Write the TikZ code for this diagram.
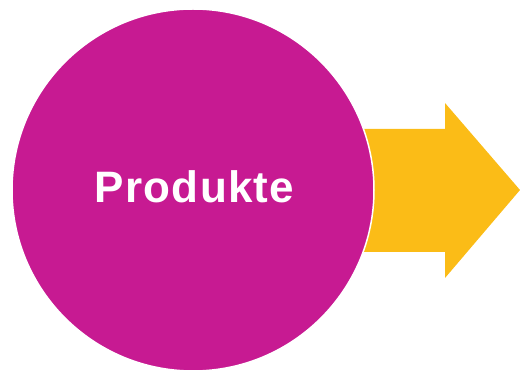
\documentclass[tikz,border=0pt]{standalone}
\usepackage{fontspec}
\setmainfont{Liberation Sans}
\definecolor{magentaP}{HTML}{C71A92}
\definecolor{yellowA}{HTML}{FBBC17}
\begin{document}
\begin{tikzpicture}[x=1pt,y=-1pt,
  arrowshape/.style={fill=yellowA,draw=none},
  circleshape/.style={circle,fill=magentaP,draw=white,line width=1.5pt,minimum size=362pt,inner sep=0pt},
  labeltext/.style={text=white,font=\fontsize{44}{50}\selectfont\bfseries\addfontfeatures{LetterSpace=3}}]
\useasboundingbox (0,0) rectangle (520,371);
\fill[arrowshape] (300,129) -- (445,129) -- (445,103) -- (520,190) -- (445,278) -- (445,252) -- (300,252) -- cycle;
\node[circleshape] (c) at (193,190) {};
\node[labeltext,anchor=base] (t) at (194.5,202.7) {Produkte};
\end{tikzpicture}
\end{document}
